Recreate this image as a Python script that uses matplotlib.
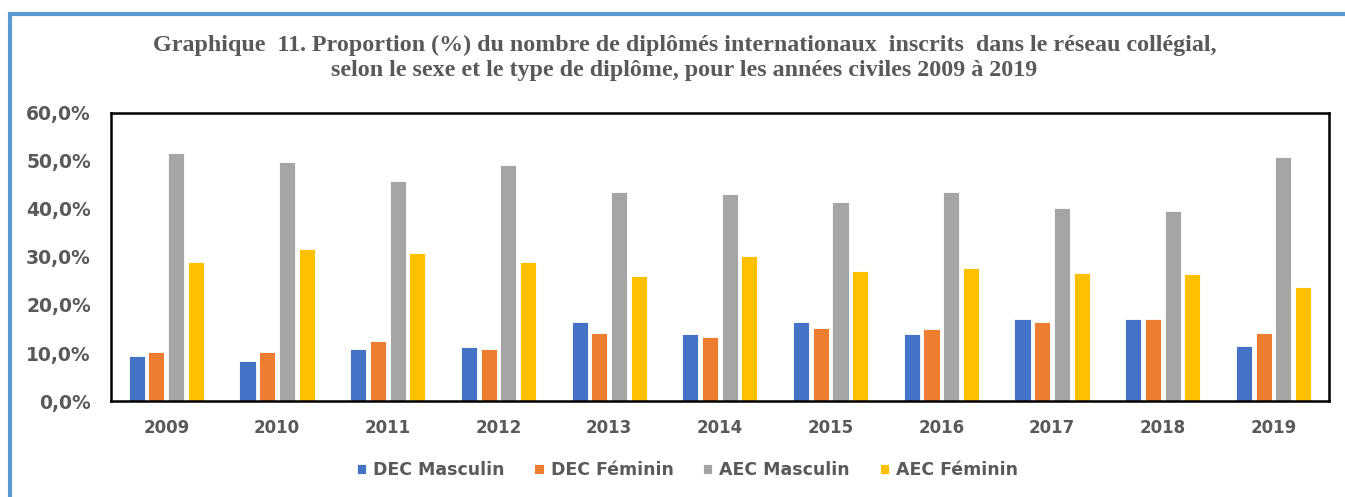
import matplotlib.pyplot as plt
import numpy as np
from matplotlib.patches import Rectangle
from matplotlib.ticker import FuncFormatter

# données (%)
annees = ['2009', '2010', '2011', '2012', '2013', '2014', '2015', '2016', '2017', '2018', '2019']
dec_masculin = [9.4, 8.4, 10.8, 11.3, 16.5, 14.0, 16.5, 14.0, 17.1, 17.1, 11.5]
dec_feminin = [10.2, 10.2, 12.6, 10.8, 14.2, 13.3, 15.3, 15.1, 16.5, 17.1, 14.2]
aec_masculin = [51.7, 49.7, 45.9, 49.1, 43.5, 43.0, 41.5, 43.5, 40.1, 39.6, 50.8]
aec_feminin = [29.0, 31.7, 30.8, 29.0, 26.1, 30.2, 27.0, 27.7, 26.6, 26.4, 23.7]

series = ['DEC Masculin', 'DEC Féminin', 'AEC Masculin', 'AEC Féminin']
couleurs = ['#4472C4', '#ED7D31', '#A5A5A5', '#FFC000']
valeurs = [dec_masculin, dec_feminin, aec_masculin, aec_feminin]

gris = '#595959'
fig = plt.figure(figsize=(13.45, 4.97), dpi=100)
ax = fig.add_axes([0.0825, 0.193, 0.9055, 0.58])

x = np.arange(len(annees))
pas = 0.178
largeur = 0.145
for i, (nom, val, c) in enumerate(zip(series, valeurs, couleurs)):
    ax.bar(x + (i - 1.5) * pas, val, largeur, color=c, edgecolor='white',
           linewidth=0.6, label=nom)

ax.set_xlim(-0.5, len(annees) - 0.5)
ax.set_ylim(0, 60)
ax.set_yticks(range(0, 61, 10))
ax.yaxis.set_major_formatter(FuncFormatter(lambda v, p: f"{v:.1f}%".replace('.', ',')))
ax.set_xticks(x)
ax.set_xticklabels(annees)
ax.tick_params(axis='y', length=0, pad=14.4, labelsize=13.5, labelcolor=gris)
ax.tick_params(axis='x', length=0, pad=13, labelsize=12, labelcolor=gris)
for lab in ax.get_xticklabels() + ax.get_yticklabels():
    lab.set_fontweight('bold')
for s in ax.spines.values():
    s.set_color('black')
    s.set_linewidth(1.8)

fig.text(0.509, 0.883, "Graphique  11. Proportion (%) du nombre de diplômés internationaux  inscrits  dans le réseau collégial,\n"
         "selon le sexe et le type de diplôme, pour les années civiles 2009 à 2019",
         ha='center', va='center', fontsize=17.3, fontweight='bold', color=gris,
         family='Liberation Serif', linespacing=1.25)

leg = fig.legend(loc='center', bbox_to_anchor=(0.511, 0.054), ncol=4, frameon=False,
                 handlelength=0.55, handleheight=0.55, handletextpad=0.4, columnspacing=1.7,
                 prop={'weight': 'bold', 'size': 12.5})
for t in leg.get_texts():
    t.set_color(gris)

# cadre bleu autour de la figure
fig.patches.append(Rectangle((9.5 / 1345, -0.2), 1.2, 1.2 - 14 / 497, transform=fig.transFigure,
                             fill=False, edgecolor='#5B9BD5', linewidth=3, zorder=10))

fig.savefig('out.png', dpi=100)
